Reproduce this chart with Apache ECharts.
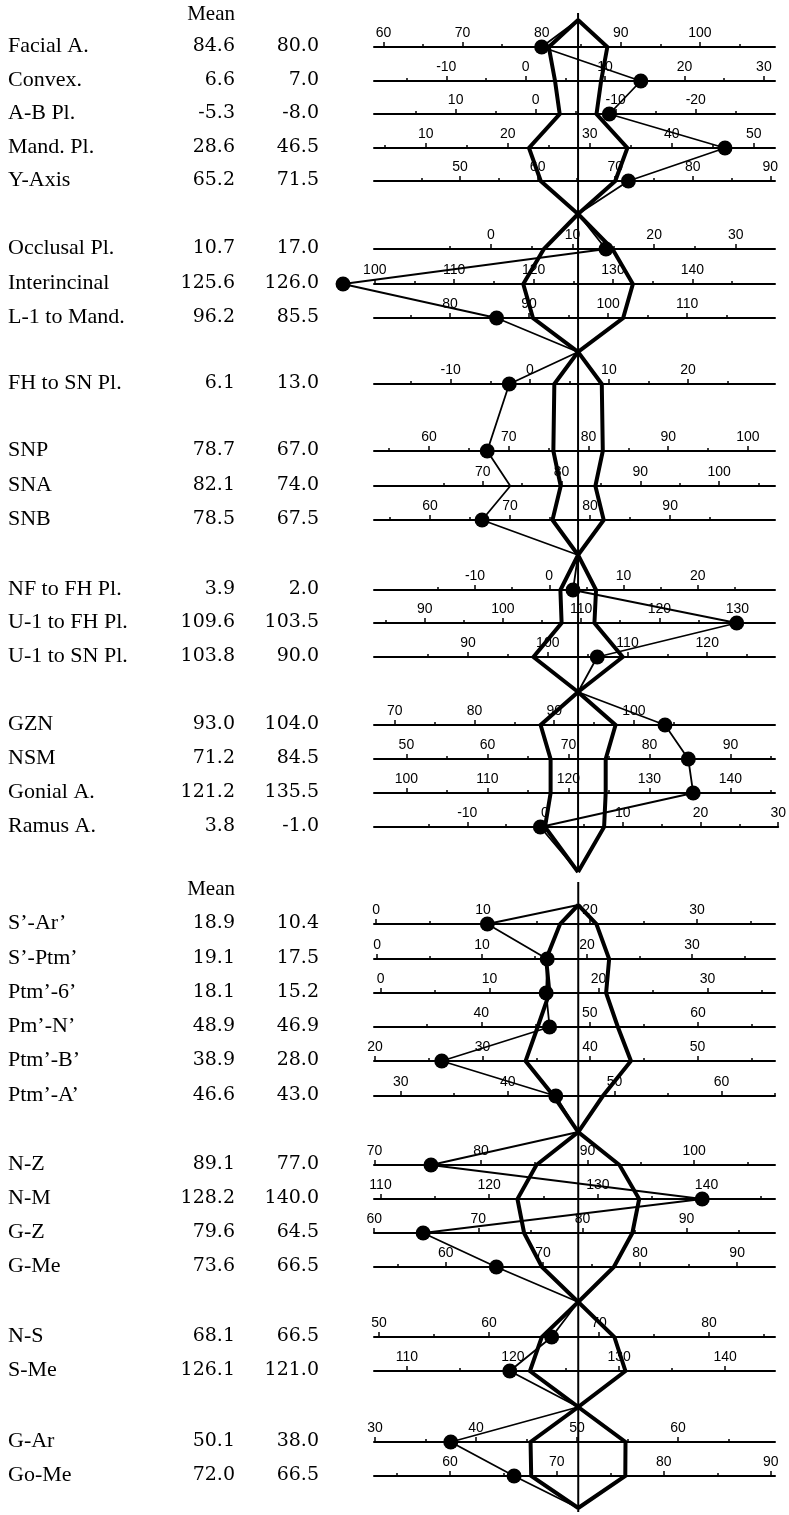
<!DOCTYPE html>
<html>
<head>
<meta charset="utf-8">
<script src="https://cdn.jsdelivr.net/npm/echarts@6/dist/echarts.min.js"></script>
<style>
  html, body { margin: 0; padding: 0; background: #fff; }
  #chart { width: 789px; height: 1515px; }
</style>
</head>
<body>
<div id="chart"></div>
<script>
// ---- data ----
var names = ['Facial A.', 'Convex.', 'A-B Pl.', 'Mand. Pl.', 'Y-Axis',
  'Occlusal Pl.', 'Interincinal', 'L-1 to Mand.',
  'FH to SN Pl.', 'SNP', 'SNA', 'SNB',
  'NF to FH Pl.', 'U-1 to FH Pl.', 'U-1 to SN Pl.',
  'GZN', 'NSM', 'Gonial A.', 'Ramus A.',
  'S\u2019-Ar\u2019', 'S\u2019-Ptm\u2019', 'Ptm\u2019-6\u2019', 'Pm\u2019-N\u2019', 'Ptm\u2019-B\u2019', 'Ptm\u2019-A\u2019',
  'N-Z', 'N-M', 'G-Z', 'G-Me',
  'N-S', 'S-Me',
  'G-Ar', 'Go-Me'];

// table columns
var means = [84.6, 6.6, -5.3, 28.6, 65.2, 10.7, 125.6, 96.2, 6.1, 78.7, 82.1, 78.5,
  3.9, 109.6, 103.8, 93.0, 71.2, 121.2, 3.8,
  18.9, 19.1, 18.1, 48.9, 38.9, 46.6, 89.1, 128.2, 79.6, 73.6, 68.1, 126.1, 50.1, 72.0];
var patient = [80.0, 7.0, -8.0, 46.5, 71.5, 17.0, 126.0, 85.5, 13.0, 67.0, 74.0, 67.5,
  2.0, 103.5, 90.0, 104.0, 84.5, 135.5, -1.0,
  10.4, 17.5, 15.2, 46.9, 28.0, 43.0, 77.0, 140.0, 64.5, 66.5, 66.5, 121.0, 38.0, 66.5];

// standard deviation band (mean +- sd)
var sd = [3.7, 2.9, 2.3, 6.0, 4.8, 4.2, 6.9, 5.7, 3.0, 3.1, 2.2, 3.2,
  2.4, 2.1, 5.6, 4.7, 3.4, 3.4, 3.8,
  1.7, 3.0, 2.6, 3.7, 4.9, 2.3, 3.9, 5.6, 5.2, 3.7, 3.3, 4.5, 4.7, 4.4];

// plotted points
var dots = [80.0, 14.5, -9.2, 46.5, 71.7, 14.1, 96.0, 85.9, -2.6, 67.3, 73.5, 66.5,
  3.2, 129.9, 106.2, 103.9, 84.8, 135.4, -0.6,
  10.4, 16.2, 15.2, 46.3, 26.2, 44.5, 75.3, 139.6, 64.7, 65.2, 65.7, 119.7, 37.5, 66.0];
var noDot = [10];      // SNA: vertex drawn without a dot

// scale of every row line (value at left end / right end)
var axisMin = [58.8, -19.1, -29.9, 3.7, 38.9, -14.3, 99.9, 70.4, -19.7, 53.1, 56.2, 53.0,
  -23.6, 83.5, 78.2, 67.4, 46.0, 96.0, -22.0,
  -0.2, -0.3, -0.6, 30.1, 19.9, 27.5, 69.95, 109.4, 59.98, 52.6, 49.55, 106.9, 29.9, 52.9];
var axisMax = [109.5, 31.4, 20.2, 52.6, 90.6, 34.8, 150.4, 121.1, 31.0, 103.4, 107.1, 103.1,
  30.4, 134.8, 128.5, 117.7, 95.5, 145.5, 30.0,
  37.3, 37.9, 36.2, 67.1, 57.2, 65.0, 107.6, 146.3, 98.5, 93.9, 86.0, 144.7, 69.6, 90.4];
var reversed = [2];    // A-B Pl. runs right to left

// labelled ticks of every row
var tickLabels = [
  [60, 70, 80, 90, 100], [-10, 0, 10, 20, 30], [10, 0, -10, -20], [10, 20, 30, 40, 50], [50, 60, 70, 80, 90],
  [0, 10, 20, 30], [100, 110, 120, 130, 140], [80, 90, 100, 110],
  [-10, 0, 10, 20], [60, 70, 80, 90, 100], [70, 80, 90, 100], [60, 70, 80, 90],
  [-10, 0, 10, 20], [90, 100, 110, 120, 130], [90, 100, 110, 120],
  [70, 80, 90, 100], [50, 60, 70, 80, 90], [100, 110, 120, 130, 140], [-10, 0, 10, 20, 30],
  [0, 10, 20, 30], [0, 10, 20, 30], [0, 10, 20, 30], [40, 50, 60], [20, 30, 40, 50], [30, 40, 50, 60],
  [70, 80, 90, 100], [110, 120, 130, 140], [60, 70, 80, 90], [60, 70, 80, 90],
  [50, 60, 70, 80], [110, 120, 130, 140],
  [30, 40, 50, 60], [60, 70, 80, 90]
];
var minorStep = 5;

// groups of rows joined between two crossing points
var topGroups = [[0, 1, 2, 3, 4], [5, 6, 7], [8, 9, 10, 11], [12, 13, 14], [15, 16, 17, 18]];
var bottomGroups = [[19, 20, 21, 22, 23, 24], [25, 26, 27, 28], [29, 30], [31, 32]];

// ---- layout ----
var rowY = [47, 81, 114, 148, 181, 249, 284, 318, 384, 451, 486, 520,
  590, 623, 657, 725, 759, 793, 827,
  924, 959, 993, 1027, 1061, 1096, 1165, 1199, 1233, 1267, 1337, 1371, 1442, 1476];
var topApexY = [20, 214, 352, 555, 692, 872];
var bottomApexY = [905, 1132, 1302, 1407, 1508];
var topAxisSpan = [13, 872], bottomAxisSpan = [882, 1512];
var headerY = [14, 889];
var lineLeft = 374, lineRight = 775;
var lineRightAt = { 18: 785 };   // Ramus A. line runs a little further

var serif = '"Liberation Serif", "Times New Roman", serif';
var numFont = '"DejaVu Serif", serif';
var tickFont = '"Liberation Sans", Arial, sans-serif';
var ink = '#000';

var chart = echarts.init(document.getElementById('chart'));

var grids = [], xAxes = [], yAxes = [], texts = [];
names.forEach(function (n, i) {
  var lo = axisMin[i], hi = axisMax[i];
  var labs = tickLabels[i];
  var first = Math.min.apply(null, labs) - minorStep, last = Math.max.apply(null, labs) + minorStep;
  var minor = [];
  for (var v = Math.ceil(lo / minorStep) * minorStep; v <= hi; v += minorStep) {
    if (v >= first && v <= last && labs.indexOf(v) < 0) minor.push(v);
  }
  var inv = reversed.indexOf(i) >= 0;
  var right = lineRightAt[i] || lineRight;
  grids.push({ left: lineLeft, width: right - lineLeft, top: rowY[i] - 1, height: 1 });
  xAxes.push({
    gridIndex: i, type: 'value', min: lo, max: hi, inverse: inv, position: 'bottom',
    axisLine: { show: true, onZero: false, lineStyle: { color: ink, width: 2 } },
    axisTick: { show: true, inside: true, length: 5, customValues: labs, lineStyle: { color: ink, width: 1.5 } },
    axisLabel: { show: true, inside: true, margin: 7, customValues: labs,
      color: ink, fontSize: 14, fontFamily: tickFont },
    splitLine: { show: false }
  });
  xAxes.push({
    gridIndex: i, type: 'value', min: lo, max: hi, inverse: inv, position: 'top',
    axisLine: { show: false },
    axisTick: { show: true, inside: false, length: 3, customValues: minor, lineStyle: { color: ink, width: 1.5 } },
    axisLabel: { show: false },
    splitLine: { show: false }
  });
  yAxes.push({ gridIndex: i, type: 'value', min: 0, max: 1, show: false });

  texts.push({ type: 'text', x: 8, y: rowY[i] - 1,
    style: { text: n, fontSize: 22, fontFamily: serif, fill: ink, verticalAlign: 'middle' } });
  texts.push({ type: 'text', x: 235, y: rowY[i] - 1,
    style: { text: means[i].toFixed(1), fontSize: 19, fontFamily: numFont, fill: ink, align: 'right', verticalAlign: 'middle' } });
  texts.push({ type: 'text', x: 319, y: rowY[i] - 1,
    style: { text: patient[i].toFixed(1), fontSize: 19, fontFamily: numFont, fill: ink, align: 'right', verticalAlign: 'middle' } });
});
headerY.forEach(function (y) {
  texts.push({ type: 'text', x: 235, y: y,
    style: { text: 'Mean', fontSize: 21, fontFamily: serif, fill: ink, align: 'right', verticalAlign: 'middle' } });
});

// overlay grid in page pixels for the polygon and the joined points
var ov = names.length;
grids.push({ left: 0, top: 0, width: 789, height: 1515 });
xAxes.push({ gridIndex: ov, type: 'value', min: 0, max: 789, show: false });
yAxes.push({ gridIndex: ov, type: 'value', min: 0, max: 1515, inverse: true, show: false });

chart.setOption({
  animation: false,
  backgroundColor: '#fff',
  grid: grids,
  xAxis: xAxes,
  yAxis: yAxes,
  graphic: texts
});

function px(i, v) {
  return chart.convertToPixel({ xAxisIndex: 2 * i }, v);
}

function half(groups, apexY, span) {
  var first = groups[0][0];
  var cx = px(first, means[first]);
  var left = [[cx, apexY[0]]], right = [[cx, apexY[0]]], path = [[cx, apexY[0]]], pts = [];
  groups.forEach(function (g, k) {
    g.forEach(function (i) {
      var a = px(i, means[i] - sd[i]), b = px(i, means[i] + sd[i]);
      left.push([Math.min(a, b), rowY[i]]);
      right.push([Math.max(a, b), rowY[i]]);
      var p = [px(i, dots[i]), rowY[i]];
      path.push(p);
      if (noDot.indexOf(i) < 0) pts.push(p);
    });
    left.push([cx, apexY[k + 1]]);
    right.push([cx, apexY[k + 1]]);
    path.push([cx, apexY[k + 1]]);
  });
  var base = { type: 'line', xAxisIndex: 2 * ov, yAxisIndex: ov, symbol: 'none', silent: true, clip: false };
  return [
    Object.assign({}, base, { data: [[cx, span[0]], [cx, span[1]]], lineStyle: { color: ink, width: 2 } }),
    Object.assign({}, base, { data: left, lineStyle: { color: ink, width: 4, join: 'miter' } }),
    Object.assign({}, base, { data: right, lineStyle: { color: ink, width: 4, join: 'miter' } }),
    Object.assign({}, base, { data: path, lineStyle: { color: ink, width: 1.8 } }),
    { type: 'scatter', xAxisIndex: 2 * ov, yAxisIndex: ov, data: pts, symbol: 'circle',
      symbolSize: 15, itemStyle: { color: ink, opacity: 1 }, silent: true, clip: false, z: 5 }
  ];
}

chart.setOption({
  series: half(topGroups, topApexY, topAxisSpan).concat(half(bottomGroups, bottomApexY, bottomAxisSpan))
});
</script>
</body>
</html>
